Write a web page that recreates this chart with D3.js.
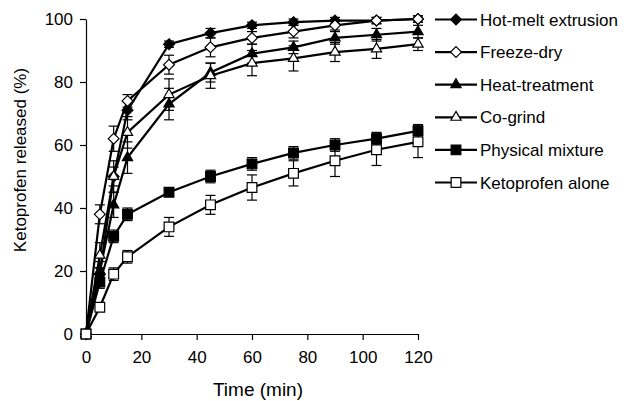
<!DOCTYPE html>
<html>
<head>
<meta charset="utf-8">
<script src="https://cdn.jsdelivr.net/npm/d3@7"></script>
<style>
  body { margin: 0; background: #fff; }
  text { font-family: "Liberation Sans", Arial, sans-serif; fill: #000; }
</style>
</head>
<body>
<svg id="chart"></svg>
<script>
// Dissolution profiles
const times = [0, 5, 10, 15, 30, 45, 60, 75, 90, 105, 120]
const seriesNames = ["Hot-melt extrusion", "Freeze-dry", "Heat-treatment", "Co-grind", "Physical mixture", "Ketoprofen alone"]
const hotMelt = [0, 19, 50, 71, 92, 95.5, 98, 99, 99.5, 99.5, 100]
const freezeDry = [0, 38, 62, 74, 85.5, 91, 94, 96, 98, 99.5, 100]
const heatTreat = [0, 20, 41, 56, 73, 83, 89, 91, 94, 95, 96]
const coGrind = [0, 25, 50, 64, 76, 82, 86, 87.5, 89.5, 90.5, 92]
const physMix = [0, 16.5, 31, 38, 45, 50, 54, 57.5, 60, 62, 64.5]
const ketoAlone = [0, 8.5, 19, 24.5, 34, 41, 46.5, 51, 55, 58.5, 61]
const hotMeltErr = [0, 2, 3, 3, 1, 1.5, 1, 1, 1, 1, 1]
const freezeDryErr = [0, 3, 4, 2, 3, 3, 2, 2, 1.5, 1, 1]
const heatTreatErr = [0, 3, 4, 5, 5, 3, 3, 2, 2, 2, 2]
const coGrindErr = [0, 4, 5, 5, 5, 4, 4, 4, 3, 3, 2]
const physMixErr = [0, 2, 2, 2, 1, 2, 2, 2, 2, 2, 2]
const ketoAloneErr = [0, 1, 2, 2, 3, 3, 4, 4, 5, 5, 5]
const xTicks = [0, 20, 40, 60, 80, 100, 120]
const yTicks = [0, 20, 40, 60, 80, 100]

const series = [
  { name: seriesNames[0], values: hotMelt, err: hotMeltErr, shape: "diamond", fill: "#000" },
  { name: seriesNames[1], values: freezeDry, err: freezeDryErr, shape: "diamond", fill: "#fff" },
  { name: seriesNames[2], values: heatTreat, err: heatTreatErr, shape: "triangle", fill: "#000" },
  { name: seriesNames[3], values: coGrind, err: coGrindErr, shape: "triangle", fill: "#fff" },
  { name: seriesNames[4], values: physMix, err: physMixErr, shape: "square", fill: "#000" },
  { name: seriesNames[5], values: ketoAlone, err: ketoAloneErr, shape: "square", fill: "#fff" }
]

const width = 632
const height = 401
const svg = d3.select("#chart").attr("width", width).attr("height", height)

const x = d3.scaleLinear().domain([0, 120]).range([86, 418])
const y = d3.scaleLinear().domain([0, 100]).range([334, 19])

const symbolPath = {
  diamond: d3.symbol(d3.symbolDiamond2, 75)(),
  triangle: d3.symbol(d3.symbolTriangle2, 75)(),
  square: d3.symbol(d3.symbolSquare2, 120)()
}

function drawMarker(g, s) {
  return g.append("path")
    .attr("d", symbolPath[s.shape])
    .attr("fill", s.fill)
    .attr("stroke", "#000")
    .attr("stroke-width", 1.2)
}

// Axes
svg.append("g")
  .attr("transform", `translate(0, ${y(0)})`)
  .call(d3.axisBottom(x).tickValues(xTicks).tickSize(6).tickSizeOuter(0).tickPadding(11))
  .call(g => g.select(".domain").attr("stroke-width", 1.2))
  .call(g => g.selectAll(".tick line").attr("stroke-width", 1.2))
  .call(g => g.selectAll(".tick text").attr("font-size", 17).style("font-family", "Liberation Sans, Arial"))

svg.append("g")
  .attr("transform", `translate(${x(0)}, 0)`)
  .call(d3.axisLeft(y).tickValues(yTicks).tickSize(6).tickSizeOuter(0).tickPadding(7))
  .call(g => g.select(".domain").attr("stroke-width", 1.2))
  .call(g => g.selectAll(".tick line").attr("stroke-width", 1.2))
  .call(g => g.selectAll(".tick text").attr("font-size", 17).style("font-family", "Liberation Sans, Arial"))

svg.append("text")
  .attr("x", 258).attr("y", 396)
  .attr("text-anchor", "middle")
  .attr("font-size", 19)
  .text("Time (min)")

svg.append("text")
  .attr("transform", "translate(26, 160) rotate(-90)")
  .attr("text-anchor", "middle")
  .attr("font-size", 17)
  .text("Ketoprofen released (%)")

// Series: error bars, line, markers
const line = d3.line().x((d, i) => x(times[i])).y(d => y(d))

series.forEach(s => {
  const g = svg.append("g")
  const bars = g.append("g").selectAll("g")
    .data(s.values.map((v, i) => ({ t: times[i], v, e: s.err[i] })).filter(d => d.e > 0))
    .join("g")
    .attr("stroke", "#000").attr("stroke-width", 1.2)
  bars.append("line")
    .attr("x1", d => x(d.t)).attr("x2", d => x(d.t))
    .attr("y1", d => y(d.v - d.e)).attr("y2", d => y(d.v + d.e))
  bars.append("line")
    .attr("x1", d => x(d.t) - 5).attr("x2", d => x(d.t) + 5)
    .attr("y1", d => y(d.v + d.e)).attr("y2", d => y(d.v + d.e))
  bars.append("line")
    .attr("x1", d => x(d.t) - 5).attr("x2", d => x(d.t) + 5)
    .attr("y1", d => y(d.v - d.e)).attr("y2", d => y(d.v - d.e))

  g.append("path")
    .attr("d", line(s.values))
    .attr("fill", "none")
    .attr("stroke", "#000")
    .attr("stroke-width", 2.2)

  g.append("g").selectAll("g")
    .data(s.values)
    .join("g")
    .attr("transform", (d, i) => `translate(${x(times[i])}, ${y(d)})`)
    .each(function () { drawMarker(d3.select(this), s) })
})

// Legend
const legend = svg.append("g")
series.forEach((s, i) => {
  const yPos = 19.5 + i * 32.6
  const row = legend.append("g").attr("transform", `translate(0, ${yPos})`)
  row.append("line")
    .attr("x1", 435).attr("x2", 477)
    .attr("stroke", "#000").attr("stroke-width", 2.2)
  drawMarker(row.append("g").attr("transform", "translate(456, 0)"), s)
  row.append("text")
    .attr("x", 480).attr("y", 0)
    .attr("dy", "0.36em")
    .attr("font-size", 17)
    .text(s.name)
})
</script>
</body>
</html>
